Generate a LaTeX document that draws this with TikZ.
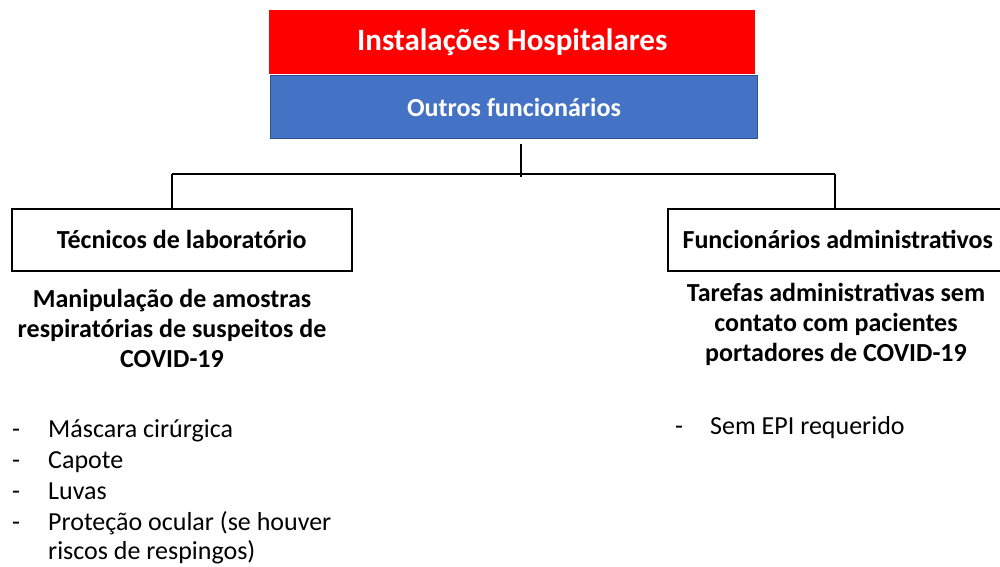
\documentclass[tikz,border=0pt]{standalone}
\usepackage{fontspec}
\setmainfont{Carlito}
\definecolor{hred}{HTML}{FF0000}
\definecolor{hblue}{HTML}{4472C4}
\definecolor{hblueb}{HTML}{2F528F}
\begin{document}
\begin{tikzpicture}[x=1pt,y=-1pt,
  conn/.style={draw=black,line width=1.5pt},
  catbox/.style={draw=black,line width=1.5pt,fill=white,inner sep=0pt,
    minimum width=340pt,minimum height=62pt,anchor=north west,
    font=\fontsize{26}{30}\selectfont\bfseries},
  bodytext/.style={font=\fontsize{26}{30}\selectfont,text=black,anchor=base west,inner sep=0pt},
  boldtext/.style={font=\fontsize{26}{30}\selectfont\bfseries,text=black,align=center}]
\useasboundingbox (0,0) rectangle (1000,566);
% top boxes
\node[fill=hred,minimum width=486pt,minimum height=64pt,inner sep=0pt,anchor=north west,
  text=white,font=\fontsize{31}{36}\selectfont\bfseries] (top) at (269,10) {Instalações Hospitalares};
\node[fill=hblue,draw=hblueb,line width=1pt,minimum width=487pt,minimum height=63pt,inner sep=0pt,anchor=north west,
  text=white,font=\fontsize{26}{30}\selectfont\bfseries] (sub) at (270,75) {Outros funcionários};
% category boxes
\node[catbox] (lab) at (11,208) {Técnicos de laboratório};
\node[catbox] (adm) at (667,208) {Funcionários administrativos};
% connectors
\coordinate (jt) at (521,144);
\coordinate (jb) at (521,177);
\coordinate (jl) at (172,174);
\coordinate (jr) at (835,174);
\draw[conn] (jt) -- (jb);
\draw[conn] (jl) -- (jr);
\draw[conn] (jl) -- (jl |- lab.north);
\draw[conn] (jr) -- (jr |- adm.north);
% left texts
\node[boldtext,anchor=center] (labdesc) at (172,328) {Manipulação de amostras\\respiratórias de suspeitos de\\COVID-19};
\node[bodytext] (l1) at (12,437) {-};
\node[bodytext] (l1t) at (48,437) {Máscara cirúrgica};
\node[bodytext] (l2) at (12,468) {-};
\node[bodytext] (l2t) at (48,468) {Capote};
\node[bodytext] (l3) at (12,499) {-};
\node[bodytext] (l3t) at (48,499) {Luvas};
\node[bodytext] (l4) at (12,530) {-};
\node[bodytext] (l4t) at (48,530) {Proteção ocular (se houver};
\node[bodytext] (l5t) at (48,559) {riscos de respingos)};
% right texts
\node[boldtext,anchor=center] (admdesc) at (836,324) {Tarefas administrativas sem\\contato com pacientes\\portadores de COVID-19};
\node[bodytext] (r1) at (675,434) {-};
\node[bodytext] (r1t) at (710,434) {Sem EPI requerido};
\end{tikzpicture}
\end{document}
